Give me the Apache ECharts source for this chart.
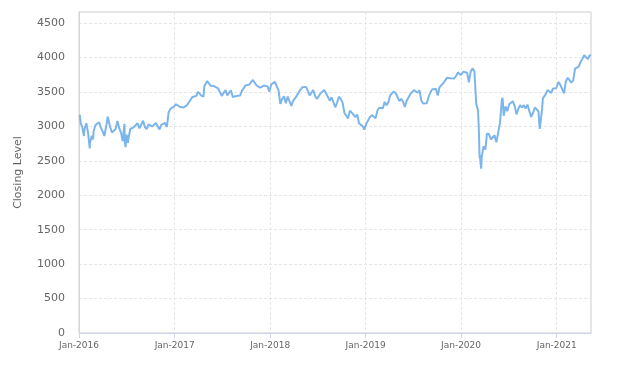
<!DOCTYPE html>
<html><head><meta charset="utf-8">
<script src="https://cdn.jsdelivr.net/npm/echarts@6/dist/echarts.min.js"></script>
<style>html,body{margin:0;padding:0;background:#fff}#c{width:631px;height:366px}</style>
</head><body><div id="c"></div>
<script>
const dates = [
'2016-01-04','2016-01-08','2016-01-13','2016-01-15','2016-01-20','2016-01-22','2016-01-29','2016-02-05','2016-02-11','2016-02-12','2016-02-19','2016-02-24','2016-02-26',
'2016-03-04','2016-03-11','2016-03-18','2016-03-24','2016-04-01','2016-04-07','2016-04-15','2016-04-20','2016-04-22','2016-04-29','2016-05-06','2016-05-13','2016-05-20','2016-05-27',
'2016-06-03','2016-06-10','2016-06-16','2016-06-23','2016-06-24','2016-06-27','2016-07-01','2016-07-06','2016-07-08','2016-07-15','2016-07-22','2016-07-29','2016-08-05','2016-08-12','2016-08-19','2016-08-26',
'2016-09-02','2016-09-09','2016-09-16','2016-09-23','2016-09-30','2016-10-07','2016-10-14','2016-10-21','2016-10-28','2016-11-04','2016-11-11','2016-11-18','2016-11-25','2016-12-02','2016-12-09','2016-12-16','2016-12-23','2016-12-30',
'2017-01-06','2017-01-13','2017-01-20','2017-01-27','2017-02-03','2017-02-10','2017-02-17','2017-02-24','2017-03-03','2017-03-10','2017-03-17','2017-03-24','2017-03-31','2017-04-07','2017-04-13','2017-04-21','2017-04-24','2017-04-28',
'2017-05-05','2017-05-12','2017-05-19','2017-05-26','2017-06-02','2017-06-09','2017-06-16','2017-06-23','2017-06-30','2017-07-07','2017-07-14','2017-07-21','2017-07-28','2017-08-04','2017-08-11','2017-08-18','2017-08-25',
'2017-09-01','2017-09-08','2017-09-15','2017-09-22','2017-09-29','2017-10-06','2017-10-13','2017-10-20','2017-10-27','2017-11-03','2017-11-10','2017-11-17','2017-11-24','2017-12-01','2017-12-08','2017-12-15','2017-12-22','2017-12-29',
'2018-01-05','2018-01-12','2018-01-19','2018-01-26','2018-02-02','2018-02-09','2018-02-16','2018-02-23','2018-03-02','2018-03-09','2018-03-16','2018-03-23','2018-03-29','2018-04-06','2018-04-13','2018-04-20','2018-04-27',
'2018-05-04','2018-05-11','2018-05-18','2018-05-25','2018-06-01','2018-06-08','2018-06-15','2018-06-22','2018-06-29','2018-07-06','2018-07-13','2018-07-20','2018-07-27','2018-08-03','2018-08-10','2018-08-17','2018-08-24','2018-08-31',
'2018-09-07','2018-09-14','2018-09-21','2018-09-28','2018-10-05','2018-10-12','2018-10-19','2018-10-26','2018-11-02','2018-11-09','2018-11-16','2018-11-23','2018-11-30','2018-12-07','2018-12-14','2018-12-21','2018-12-27','2018-12-31',
'2019-01-04','2019-01-11','2019-01-18','2019-01-25','2019-02-01','2019-02-08','2019-02-15','2019-02-22','2019-03-01','2019-03-08','2019-03-15','2019-03-22','2019-03-29','2019-04-05','2019-04-12','2019-04-18','2019-04-26',
'2019-05-03','2019-05-10','2019-05-17','2019-05-24','2019-05-31','2019-06-07','2019-06-14','2019-06-21','2019-06-28','2019-07-05','2019-07-12','2019-07-19','2019-07-26','2019-08-02','2019-08-09','2019-08-16','2019-08-23','2019-08-30',
'2019-09-06','2019-09-13','2019-09-20','2019-09-27','2019-10-04','2019-10-11','2019-10-18','2019-10-25','2019-11-01','2019-11-08','2019-11-15','2019-11-22','2019-11-29','2019-12-06','2019-12-13','2019-12-20','2019-12-27','2019-12-31',
'2020-01-03','2020-01-10','2020-01-17','2020-01-24','2020-01-31','2020-02-07','2020-02-14','2020-02-19','2020-02-21','2020-02-28','2020-03-06','2020-03-09','2020-03-12','2020-03-13','2020-03-16','2020-03-18','2020-03-20','2020-03-27',
'2020-04-03','2020-04-09','2020-04-17','2020-04-24','2020-05-01','2020-05-08','2020-05-15','2020-05-22','2020-05-29','2020-06-05','2020-06-08','2020-06-12','2020-06-19','2020-06-26','2020-07-03','2020-07-10','2020-07-17','2020-07-21','2020-07-24','2020-07-31',
'2020-08-07','2020-08-14','2020-08-21','2020-08-28','2020-09-04','2020-09-11','2020-09-18','2020-09-25','2020-10-02','2020-10-09','2020-10-16','2020-10-23','2020-10-28','2020-10-30','2020-11-06','2020-11-09','2020-11-13','2020-11-20','2020-11-27',
'2020-12-04','2020-12-11','2020-12-18','2020-12-23','2020-12-30',
'2021-01-08','2021-01-15','2021-01-22','2021-01-29','2021-02-05','2021-02-12','2021-02-19','2021-02-26','2021-03-05','2021-03-12','2021-03-19','2021-03-26','2021-04-01','2021-04-09','2021-04-16','2021-04-23','2021-04-30','2021-05-07','2021-05-11'
];
const closes = [
3165,3033,3000,2953,2860,2959,3045,2897,2680,2756,2862,2810,2933,
3018,3031,3059,2985,2919,2860,3020,3140,3141,2990,2910,2907,2960,3078,
2970,2906,2786,3038,2776,2698,2880,2760,2820,2961,2967,2990,2970,3045,2970,2980,
3081,2990,2960,3030,3002,2998,3013,3050,3040,2955,3020,3030,3049,2991,3206,3255,3260,3291,
3321,3318,3285,3300,3273,3280,3308,3283,3389,3427,3448,3440,3500,3480,3445,3430,3580,3559,
3658,3637,3589,3593,3581,3562,3550,3545,3442,3463,3527,3450,3450,3523,3426,3432,3440,
3451,3447,3515,3530,3595,3603,3605,3605,3673,3690,3593,3566,3562,3567,3592,3573,3580,3504,
3607,3613,3647,3647,3523,3325,3397,3438,3336,3433,3437,3297,3362,3406,3446,3491,3534,
3566,3565,3573,3515,3449,3448,3528,3441,3396,3422,3481,3459,3527,3477,3426,3373,3421,3393,
3277,3345,3430,3399,3345,3194,3221,3116,3228,3221,3168,3133,3173,3041,3053,3004,2951,3001,
3041,3070,3134,3164,3163,3117,3226,3269,3298,3264,3355,3305,3351,3448,3467,3503,3484,
3504,3366,3398,3362,3280,3372,3375,3467,3474,3527,3506,3488,3524,3376,3333,3322,3334,3426,
3495,3538,3552,3541,3447,3570,3579,3625,3623,3704,3720,3697,3703,3696,3731,3782,3782,3745,
3773,3795,3808,3779,3640,3798,3841,3865,3800,3329,3232,2959,2545,2586,2450,2385,2549,2710,
2662,2893,2888,2809,2811,2871,2770,2906,3050,3384,3415,3154,3289,3220,3320,3295,3366,3385,3298,3174,
3252,3307,3275,3306,3260,3315,3339,3137,3191,3273,3245,3220,2963,2958,3251,3407,3433,3468,3527,
3537,3485,3550,3522,3553,
3645,3599,3602,3481,3656,3705,3713,3636,3669,3837,3837,3867,3926,3979,4032,4012,3975,4034,4021
];
const yTickStep = 500;
const xStart = '2016-01-01';
const xEnd = '2021-05-12';
const monthNames = ['Jan','Feb','Mar','Apr','May','Jun','Jul','Aug','Sep','Oct','Nov','Dec'];

const chart = echarts.init(document.getElementById('c'), null, {renderer:'canvas'});
const data = dates.map((d,i)=>[Date.parse(d), closes[i]]);
chart.setOption({
  animation:false,
  useUTC:true,
  backgroundColor:'#fff',
  grid:{left:79,right:40,top:12,bottom:33,show:true,borderColor:'#cccccc',borderWidth:1,containLabel:false},
  xAxis:{
    type:'time',
    min:Date.parse(xStart), max:Date.parse(xEnd),
    axisLine:{show:true,lineStyle:{color:'#ccd6eb'}},
    axisTick:{show:true,length:5,lineStyle:{color:'#ccd6eb'}},
    splitLine:{show:true,lineStyle:{type:[3,2],color:'#e6e6e6'}},
    axisLabel:{
      fontFamily:'DejaVu Sans',fontSize:9,color:'#666666',margin:8,hideOverlap:false,
      formatter:function(v){const d=new Date(v);return (d.getUTCMonth()===0&&d.getUTCDate()===1)?monthNames[0]+'-'+d.getUTCFullYear():'';}
    }
  },
  yAxis:{
    type:'value',min:0,max:4660,interval:yTickStep,
    name:'Closing Level',nameLocation:'middle',nameGap:55,nameRotate:90,
    nameTextStyle:{fontFamily:'DejaVu Sans',fontSize:11,color:'#666666'},
    axisLine:{show:true,lineStyle:{color:'#ccd6eb'}},
    axisTick:{show:false},
    splitLine:{show:true,lineStyle:{type:[3,2],color:'#e6e6e6'}},
    axisLabel:{fontFamily:'DejaVu Sans',fontSize:11,color:'#666666',margin:14,
      formatter:function(v){return v%yTickStep===0?String(v):'';}}
  },
  series:[{type:'line',data:data,showSymbol:false,symbol:'none',
    lineStyle:{width:2,color:'#7cb5ec'},itemStyle:{color:'#7cb5ec'}}]
});
</script></body></html>
